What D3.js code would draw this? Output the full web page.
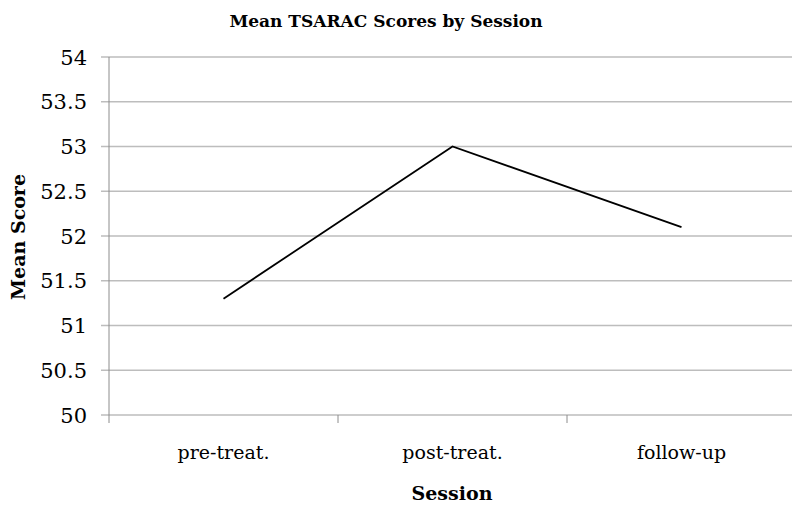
<!DOCTYPE html>
<html>
<head>
<meta charset="utf-8">
<script src="https://cdn.jsdelivr.net/npm/d3@7"></script>
<style>
  body { margin: 0; background: #fff; }
  text { font-family: "DejaVu Serif", "Liberation Serif", serif; fill: #000; }
</style>
</head>
<body>
<svg id="chart"></svg>
<script>
// data
var sessions = ["pre-treat.", "post-treat.", "follow-up"];
var meanScores = [51.3, 53.0, 52.1];
var yTicks = [50, 50.5, 51, 51.5, 52, 52.5, 53, 53.5, 54];

var W = 792, H = 506;
var margin = {top: 57, right: -4, bottom: 91, left: 109};

var svg = d3.select("#chart").attr("width", W).attr("height", H);

var x = d3.scaleBand()
    .domain(sessions)
    .range([margin.left, W - margin.right]);

var y = d3.scaleLinear()
    .domain([50, 54])
    .range([H - margin.bottom, margin.top]);

// gridlines
svg.append("g").selectAll("line").data(yTicks).enter().append("line")
    .attr("x1", margin.left - 8)
    .attr("x2", W)
    .attr("y1", function (d) { return y(d); })
    .attr("y2", function (d) { return y(d); })
    .attr("stroke", "#bdbdbd")
    .attr("stroke-width", 1.3);

// y axis line
svg.append("line")
    .attr("x1", margin.left).attr("x2", margin.left)
    .attr("y1", y(54)).attr("y2", y(50) + 8)
    .attr("stroke", "#8c8c8c").attr("stroke-width", 1);

// category ticks
var bounds = sessions.map(function (s) { return x(s); }).slice(1);
svg.append("g").selectAll("line").data(bounds).enter().append("line")
    .attr("x1", function (d) { return d; })
    .attr("x2", function (d) { return d; })
    .attr("y1", y(50))
    .attr("y2", y(50) + 8)
    .attr("stroke", "#8c8c8c").attr("stroke-width", 1);

// y tick labels
svg.append("g").selectAll("text").data(yTicks).enter().append("text")
    .attr("x", 87)
    .attr("y", function (d) { return y(d); })
    .attr("dy", "0.36em")
    .attr("text-anchor", "end")
    .style("font-size", "21px")
    .text(function (d) { return d; });

// category labels
svg.append("g").selectAll("text").data(sessions).enter().append("text")
    .attr("x", function (d) { return x(d) + x.bandwidth() / 2; })
    .attr("y", 459)
    .attr("text-anchor", "middle")
    .style("font-size", "19px")
    .text(function (d) { return d; });

// the line
var line = d3.line()
    .x(function (d, i) { return x(sessions[i]) + x.bandwidth() / 2; })
    .y(function (d) { return y(d); });

svg.append("path")
    .datum(meanScores)
    .attr("d", line)
    .attr("fill", "none")
    .attr("stroke", "#000")
    .attr("stroke-width", 1.8);

// titles
svg.append("text")
    .attr("x", 386).attr("y", 27)
    .attr("text-anchor", "middle")
    .style("font-size", "17px").style("font-weight", "bold")
    .text("Mean TSARAC Scores by Session");

svg.append("text")
    .attr("x", 452).attr("y", 500)
    .attr("text-anchor", "middle")
    .style("font-size", "19px").style("font-weight", "bold")
    .text("Session");

svg.append("text")
    .attr("transform", "translate(25,237) rotate(-90)")
    .attr("text-anchor", "middle")
    .style("font-size", "19px").style("font-weight", "bold")
    .text("Mean Score");
</script>
</body>
</html>
